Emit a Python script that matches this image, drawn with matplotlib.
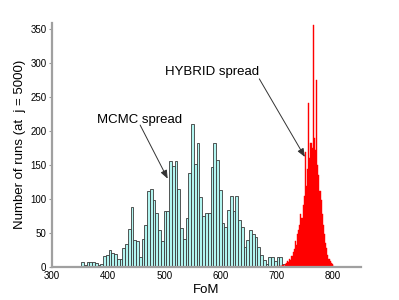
import numpy as np
import matplotlib
matplotlib.use("Agg")
import matplotlib.pyplot as plt

plt.rcParams['font.family'] = ['Liberation Sans', 'DejaVu Sans']

# MCMC histogram (bin width ~4.9)
mcmc_start = 307.75
mcmc_width = 4.9
mcmc_counts = [2, 2, 2, 1, 0, 2, 0, 0, 2, 8,
               3, 8, 8, 8, 6, 3, 5, 16, 17, 25,
               21, 19, 12, 12, 28, 34, 56, 89, 40, 38,
               15, 41, 62, 112, 115, 99, 80, 55, 38, 82,
               83, 156, 149, 156, 115, 57, 41, 72, 139, 210,
               152, 182, 103, 75, 79, 80, 147, 182, 158, 113,
               65, 59, 84, 105, 82, 105, 69, 59, 30, 40,
               55, 48, 44, 30, 18, 10, 5, 15, 15, 9,
               14, 14, 5, 3]

# HYBRID histogram (bin width 2)
hyb_start = 700
hyb_width = 2
hyb_counts = [1, 0, 2, 1, 2, 3, 2, 4, 6, 9,
              7, 12, 10, 16, 22, 26, 38, 33, 48, 55,
              62, 78, 72, 92, 105, 170, 120, 145, 241, 160,
              182, 175, 357, 190, 172, 275, 150, 135, 112, 98,
              78, 62, 48, 35, 28, 18, 12, 9, 6, 4, 2]

xticks = [300, 400, 500, 600, 700, 800]
yticks = [0, 50, 100, 150, 200, 250, 300, 350]

fig = plt.figure(figsize=(3.99, 3.0), dpi=100)
ax = fig.add_axes([0.13, 0.11, 0.775, 0.815])

mcmc_left = mcmc_start + mcmc_width * np.arange(len(mcmc_counts))
ax.bar(mcmc_left, mcmc_counts, width=mcmc_width, align='edge',
       color='#b2f5f0', edgecolor='#3a3a3a', linewidth=0.6)

hyb_left = hyb_start + hyb_width * np.arange(len(hyb_counts))
ax.bar(hyb_left, hyb_counts, width=hyb_width, align='edge',
       color='#ff0000', edgecolor='#ff0000', linewidth=0.3)

ax.set_xlim(300, 850)
ax.set_ylim(0, 360)
ax.set_xticks(xticks)
ax.set_yticks(yticks)
ax.tick_params(axis='x', length=0, labelsize=7, pad=3)
ax.tick_params(axis='y', direction='out', length=2.5, width=0.8,
               color='#999999', labelsize=7, pad=1.5)

for s in ['top', 'right']:
    ax.spines[s].set_visible(False)
for s in ['left', 'bottom']:
    ax.spines[s].set_color('#a0a0a0')
    ax.spines[s].set_linewidth(1.6)

ax.set_xlabel('FoM', fontsize=9.5, labelpad=2)
ax.set_ylabel('Number of runs (at  j = 5000)', fontsize=9.5, labelpad=3)

arrow = dict(arrowstyle='-|>,head_length=0.5,head_width=0.2',
             color='#333333', lw=0.7, shrinkA=0, shrinkB=0)
ax.text(380, 212, 'MCMC spread', fontsize=9.5, ha='left', va='baseline')
ax.annotate('', xy=(506, 130), xytext=(457, 209), arrowprops=arrow)
ax.text(501, 282, 'HYBRID spread', fontsize=9.5, ha='left', va='baseline')
ax.annotate('', xy=(750, 162), xytext=(669, 277), arrowprops=arrow)

fig.savefig('out.png', dpi=100)
